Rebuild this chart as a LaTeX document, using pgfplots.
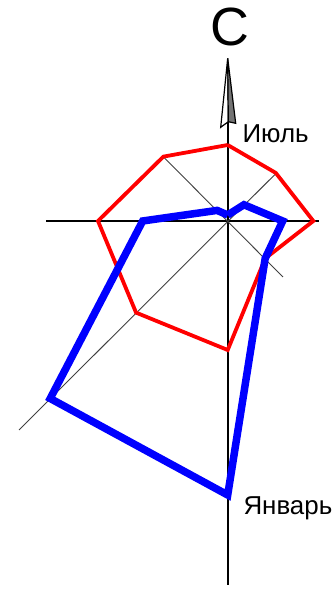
\documentclass[border=0pt]{standalone}
\usepackage{fontspec}
\setmainfont{Liberation Sans}
\usepackage{pgfplots}
\pgfplotsset{compat=1.18}
\begin{document}
\begin{tikzpicture}
\begin{axis}[
  width=335bp, height=589bp, scale only axis,
  xmin=-227.7, xmax=107.3, ymin=-368, ymax=221,
  hide axis, clip=false,
]
\path (rel axis cs:0,0) rectangle (rel axis cs:1,1);
% axes of the rose
\addplot[black, line width=1.8bp, forget plot] coordinates {(0,100) (0,-364)};
\addplot[black, line width=1.2bp, forget plot] coordinates {(-181.7,0) (91.3,0)};
\addplot[black!75, line width=0.9bp, forget plot] coordinates {(-64.5,64.3) (55.3,-56)};
\addplot[black!75, line width=0.9bp, forget plot] coordinates {(-208.7,-209) (49,48.3)};
% north arrow
\addplot[black, line width=1.2bp, fill=white, forget plot] coordinates {(0,162.7) (-7,93.7) (0.6,99.3) (0,162.7)};
\addplot[black, line width=1.2bp, fill=black!55, forget plot] coordinates {(0,162.7) (0.6,99.3) (8,97.7) (0,162.7)};
% July (red), polar: angle, radius
\addplot[red, line width=3.8bp, line join=miter, data cs=polar] coordinates {
  (90,76) (45,68) (0,85.6) (-45,53) (-90,129) (-135,129.6) (180,129.7) (135,91) (90,76)};
% January (blue)
\addplot[blue, line width=7.5bp, line join=miter, data cs=polar] coordinates {
  (90,6) (45,23) (0,55) (-45,53) (-90,274) (-135,251) (180,85) (135,15) (90,6)};
% labels
\node[anchor=base, inner sep=0pt, font=\fontsize{54}{54}\selectfont] at (axis cs:2,175) {С};
\node[anchor=base west, inner sep=0pt, font=\fontsize{26}{26}\selectfont] at (axis cs:14.6,78) {Июль};
\node[anchor=base west, inner sep=0pt, font=\fontsize{26}{26}\selectfont] at (axis cs:15.6,-294) {Январь};
\end{axis}
\end{tikzpicture}
\end{document}
